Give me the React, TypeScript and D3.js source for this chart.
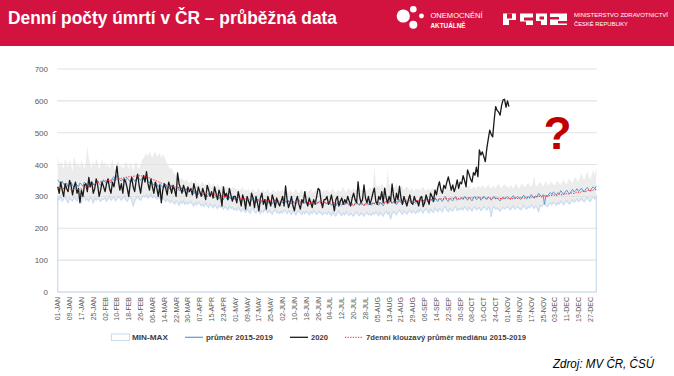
import React from 'react';
import * as d3 from 'd3';

// ---------- DATA ----------
const tickLabels = [
  '01-JAN','09-JAN','17-JAN','25-JAN','02-FEB','10-FEB','18-FEB','26-FEB','06-MAR','14-MAR','22-MAR','30-MAR',
  '07-APR','15-APR','23-APR','01-MAY','09-MAY','17-MAY','25-MAY','02-JUN','10-JUN','18-JUN','26-JUN','04-JUL',
  '12-JUL','20-JUL','28-JUL','05-AUG','13-AUG','21-AUG','29-AUG','06-SEP','14-SEP','22-SEP','30-SEP','08-OCT',
  '16-OCT','24-OCT','01-NOV','09-NOV','17-NOV','25-NOV','03-DEC','11-DEC','19-DEC','27-DEC'
];
const yTicks = [0, 100, 200, 300, 400, 500, 600, 700];

// 2020 daily deaths (Jan 1 - Nov 2)
const deaths2020 = [
  330,310,345,320,300,340,325,315,350,335,305,330,345,310,325,280,320,300,335,340,315,360,330,345,310,325,355,335,300,320,345,
  330,315,340,355,325,310,345,330,360,395,350,320,340,310,355,345,325,300,340,360,330,315,350,370,335,310,345,365,
  345,378,340,320,355,330,310,345,325,300,335,280,320,340,325,305,345,330,310,335,320,300,374,340,325,310,335,320,300,330,315,
  325,305,340,320,295,330,315,300,325,310,290,335,320,300,315,295,330,310,290,320,305,270,330,300,310,290,325,305,285,300,
  300,280,315,295,270,305,290,260,300,285,270,310,295,265,300,280,255,295,310,275,290,260,300,285,270,305,290,265,295,280,270,
  285,300,270,333,290,265,280,300,270,255,285,300,275,260,290,280,315,285,270,295,280,265,290,275,300,325,320,285,265,290,
  290,300,275,285,305,280,255,290,300,270,285,295,275,290,280,300,285,270,295,310,290,280,346,300,280,290,336,295,280,300,275,
  290,310,326,285,275,300,290,315,280,326,295,280,300,285,339,300,280,310,290,332,295,275,300,285,270,290,305,280,275,300,285,
  285,270,295,300,268,280,305,290,275,310,300,285,320,305,330,346,320,310,335,325,345,361,340,320,336,315,330,352,325,345,
  340,365,350,330,383,370,355,345,375,367,392,362,446,430,440,425,409,450,480,508,495,487,540,582,570,565,555,585,603,605,580,
  600,582
];

// average 2015-2019
const avg1519 = [
  352,345,340,348,338,335,342,330,338,345,335,328,340,336,330,342,338,332,345,340,335,328,342,348,338,335,345,350,340,335,348,
  352,345,340,355,348,342,358,362,350,367,360,352,348,355,345,350,358,352,345,360,355,348,352,362,355,350,358,360,
  352,360,348,342,350,340,335,345,338,330,340,335,328,332,338,325,330,322,335,328,320,325,330,318,322,328,315,320,325,312,318,
  320,312,308,318,310,305,315,308,302,312,305,298,308,302,310,300,295,305,298,292,302,296,290,300,295,288,298,292,300,290,
  295,288,298,290,284,295,288,282,292,286,280,290,296,285,280,292,286,278,288,282,292,285,278,288,282,276,286,290,280,284,278,
  286,280,290,284,278,288,282,276,286,280,275,285,290,280,276,284,278,286,280,274,284,278,288,282,276,280,286,278,274,282,
  280,276,284,278,272,282,276,270,280,286,276,272,280,274,284,278,272,280,274,270,278,284,276,272,280,276,270,278,282,274,278,
  272,280,276,284,278,272,282,276,270,280,286,276,282,288,278,284,280,274,284,290,280,276,286,282,276,284,290,280,286,282,278,
  288,282,292,286,280,290,294,284,280,292,286,282,296,288,284,294,290,284,296,300,288,284,294,290,286,296,300,288,294,290,
  296,290,300,294,288,298,292,286,296,300,290,294,298,288,292,300,296,290,298,294,288,296,300,292,296,290,286,294,298,292,296,
  300,294,290,298,302,292,296,300,294,290,298,304,296,292,300,296,306,300,294,302,298,310,304,300,306,275,304,300,308,312,
  306,314,310,304,312,308,318,312,306,314,320,312,308,316,322,314,318,324,316,320,326,318,315,324,328,320,316,326,330,324,332
];

// 7-day moving average of the 2015-2019 median
const medianMA = [
  330,328,327,326,325,324,323,323,322,322,322,321,321,322,322,323,324,325,326,328,330,332,334,336,338,340,342,344,345,346,347,
  348,349,349,350,350,351,352,352,353,354,355,356,357,358,359,360,361,362,362,363,363,364,364,365,365,365,364,364,
  363,362,360,358,356,354,352,350,348,346,344,342,340,338,336,335,334,333,332,331,330,329,328,327,326,325,324,323,322,321,320,
  319,318,317,316,315,314,313,312,311,311,310,309,308,307,307,306,305,304,303,303,302,301,300,300,299,298,298,297,296,296,
  295,295,294,294,293,293,292,292,291,291,291,290,290,290,289,289,289,288,288,288,287,287,287,287,286,286,286,286,285,285,285,
  285,286,284,283,285,284,282,284,283,281,283,284,282,283,281,282,284,282,280,282,281,283,281,280,282,281,279,280,282,280,
  280,281,279,280,278,279,281,279,277,278,279,277,278,276,277,279,277,275,276,277,275,276,278,276,275,277,276,274,276,277,278,
  277,279,278,276,278,280,279,278,280,282,280,281,283,281,280,282,284,283,282,284,285,283,284,286,285,284,286,287,285,286,288,
  287,286,288,289,287,288,290,289,288,290,291,290,292,291,290,292,293,292,291,293,294,292,293,295,294,293,295,294,293,295,
  296,294,295,297,296,294,295,297,296,295,297,298,296,295,297,296,294,295,297,296,294,295,296,294,293,295,294,292,293,295,294,
  293,295,294,292,294,296,295,293,295,297,296,294,296,298,297,295,297,299,298,297,299,301,300,298,300,302,301,300,302,304,
  303,305,304,303,305,307,306,305,307,309,308,307,309,311,310,309,312,314,313,312,315,317,316,315,318,320,319,318,320,322,321
];

// MIN and MAX 2015-2019
const max1519 = [
  430,395,410,400,385,420,405,390,415,400,380,425,410,395,405,390,415,400,385,410,455,420,400,390,410,395,420,405,385,400,415,
  400,410,390,405,385,400,415,395,380,405,410,390,400,385,395,410,400,385,405,395,380,400,410,395,385,400,415,420,
  430,435,425,440,430,420,435,440,425,430,438,420,432,425,415,400,395,385,390,375,370,365,372,360,355,358,350,348,355,345,342,
  350,345,340,352,338,345,335,342,348,336,340,332,345,338,330,342,335,328,340,332,326,338,330,335,325,332,328,322,330,325,
  328,320,326,318,324,330,316,322,318,326,314,320,324,316,312,320,326,315,318,322,312,318,324,314,310,318,322,312,316,320,314,
  318,322,312,326,316,312,320,315,310,318,324,314,310,318,322,312,316,320,314,318,326,316,312,320,318,314,322,316,312,320,
  316,322,318,312,320,326,316,312,320,318,314,322,330,318,314,322,326,316,320,328,318,322,335,326,318,324,330,320,316,324,328,
  322,330,395,340,328,335,326,345,330,322,328,380,340,326,332,324,330,338,326,322,334,328,320,326,332,324,318,328,322,316,326,
  320,326,318,324,330,320,316,326,322,318,328,324,318,330,326,320,328,322,318,326,332,324,320,330,326,322,328,334,326,330,
  325,332,328,322,330,336,326,322,332,328,324,334,330,326,336,330,324,332,338,328,324,334,330,326,336,340,330,326,334,338,330,
  332,326,336,330,324,334,340,330,326,336,340,332,328,338,344,334,330,340,365,336,330,342,346,338,332,340,348,338,334,342,
  345,338,334,344,350,340,336,346,352,342,338,350,356,346,342,354,362,350,346,360,372,356,352,366,378,360,354,370,384,366,392
];
const min1519 = [
  295,290,300,285,292,298,288,280,295,290,285,300,292,286,296,290,282,294,300,288,292,285,298,290,280,294,288,296,290,284,292,
  290,296,285,292,300,288,294,298,286,292,300,295,288,296,302,290,285,294,298,290,268,286,294,300,292,288,296,302,
  298,305,294,300,308,296,302,298,292,300,294,288,296,290,284,292,286,280,288,282,276,286,280,272,284,278,286,275,282,276,280,
  284,276,270,280,274,282,278,270,276,268,280,272,266,276,270,264,274,268,262,272,266,270,260,268,264,258,270,262,266,258,
  262,256,266,258,252,262,256,250,260,254,248,258,262,252,248,258,252,246,256,250,260,254,248,256,250,244,254,258,248,252,246,
  254,248,258,252,246,256,250,244,254,248,242,252,256,248,244,252,246,254,248,242,252,246,256,250,244,248,254,246,242,250,
  248,244,252,246,240,250,244,238,248,254,244,240,248,242,252,246,240,248,242,238,246,252,244,240,248,244,238,246,250,242,246,
  240,248,244,252,246,240,250,244,238,248,254,244,250,228,246,252,248,242,252,258,248,244,254,250,244,252,258,248,254,250,246,
  256,250,260,254,248,258,262,252,248,260,254,250,264,256,252,262,258,252,264,268,256,252,262,258,254,264,268,256,262,258,
  264,258,268,262,256,266,260,254,264,268,258,262,266,256,260,268,264,258,266,262,236,264,268,260,264,258,254,262,266,260,264,
  268,262,258,266,270,260,264,268,262,258,266,272,264,260,268,264,274,268,262,270,266,250,272,268,274,280,272,268,276,280,
  274,282,278,272,280,276,286,280,274,282,288,280,276,284,290,282,286,292,284,288,294,286,283,292,296,288,284,294,298,292,300
];

const legendLabels = ['MIN-MAX', 'průměr 2015-2019', '2020', '7denní klouzavý průměr mediánu 2015-2019'];

// ---------- CHART ----------
const FONT = '"Liberation Sans", Arial, sans-serif';
const NDAYS = 365;

export default function App() {
  const x = d3.scaleLinear().domain([0, NDAYS]).range([57, 597]);
  const xc = (i: number) => x(i + 0.5);
  const y = d3.scaleLinear().domain([0, 700]).range([292, 69]);
  const days = d3.range(NDAYS);

  const bandArea = d3.area<number>().x(i => xc(i)).y0(i => y(min1519[i])).y1(i => y(max1519[i]));
  const minArea = d3.area<number>().x(i => xc(i)).y0(() => y(0)).y1(i => y(min1519[i]));
  const lineOf = (arr: number[]) => d3.line<number>().x((_, i) => xc(i)).y(v => y(v))(arr) || '';

  const tickDays = tickLabels.map((_, k) => k * 8);

  return (
    <div style={{ position: 'fixed', left: 0, top: 0 }}>
      <svg width={674} height={376} style={{ display: 'block', background: '#fff' }} fontFamily={FONT}>
        {/* header */}
        <rect x={0} y={0} width={674} height={46} fill="#d3133f" />
        <text x={8} y={24} fill="#fff" fontSize={17.5} fontWeight="bold" textLength={329} lengthAdjust="spacingAndGlyphs">
          Denní počty úmrtí v ČR – průběžná data
        </text>
        {/* onemocneni logo */}
        <circle cx={403.3} cy={16} r={6.6} fill="#fff" />
        <circle cx={413.3} cy={9.3} r={3.3} fill="#fff" />
        <circle cx={421.5} cy={16} r={2.4} fill="#fff" />
        <circle cx={413.3} cy={24.8} r={4} fill="#fff" />
        <text x={430.5} y={17.5} fill="#fff" fontSize={7} textLength={52} lengthAdjust="spacingAndGlyphs">ONEMOCNĚNÍ</text>
        <text x={430.5} y={27.5} fill="#fff" fontSize={7} fontWeight="bold" textLength={35} lengthAdjust="spacingAndGlyphs">AKTUÁLNĚ</text>
        {/* ministry logo */}
        <g fill="#fff">
          <rect x={503} y={13.5} width={13} height={11.5} />
          <rect x={520} y={13.5} width={13} height={11.5} />
          <rect x={536} y={13.5} width={11} height={11.5} />
          <rect x={550} y={13.5} width={17} height={11.5} />
        </g>
        <g fill="#d3133f">
          <rect x={507} y={13.5} width={5} height={5} />
          <rect x={509} y={20} width={7} height={5} />
          <rect x={524} y={17.5} width={9} height={3} />
          <rect x={520} y={21.5} width={6} height={3.5} />
          <rect x={539.5} y={16.5} width={4.5} height={3} />
          <rect x={536} y={21} width={5} height={4} />
          <rect x={550} y={17} width={9} height={2.5} />
          <rect x={558} y={21} width={9} height={2.5} />
        </g>
        <text x={574} y={17} fill="#fff" fontSize={5.8} textLength={94} lengthAdjust="spacingAndGlyphs">MINISTERSTVO ZDRAVOTNICTVÍ</text>
        <text x={574} y={26} fill="#fff" fontSize={5.8} textLength={54} lengthAdjust="spacingAndGlyphs">ČESKÉ REPUBLIKY</text>

        {/* min-max band */}
        <path d={bandArea(days) || ''} fill="#ececec" />
        {/* gridlines */}
        {yTicks.map(t => (
          <line key={t} x1={57} x2={597} y1={y(t)} y2={y(t)} stroke="#e2e2e2" strokeWidth={1.1} />
        ))}
        {/* min outline */}
        <path d={minArea(days) || ''} fill="none" stroke="#c9dcf0" strokeWidth={1.2} />
        {/* y labels */}
        {yTicks.map(t => (
          <text key={t} x={48} y={y(t) + 3} textAnchor="end" fontSize={8} fill="#595959">{t}</text>
        ))}
        {/* series */}
        <path d={lineOf(avg1519)} fill="none" stroke="#5b9bd5" strokeWidth={1} />
        <path d={lineOf(deaths2020)} fill="none" stroke="#1a1a1a" strokeWidth={1.3} strokeLinejoin="round" />
        <path d={lineOf(medianMA)} fill="none" stroke="#ff2020" strokeWidth={1} strokeDasharray="1.3,1.3" />

        {/* x tick labels */}
        {tickLabels.map((lab, k) => (
          <text key={lab} transform={`translate(${xc(tickDays[k]) + 2.5},297) rotate(-90)`} textAnchor="end" fontSize={7} fill="#595959">
            {lab}
          </text>
        ))}

        {/* question mark */}
        <text x={557.5} y={149} textAnchor="middle" fontSize={46} fontWeight="bold" fill="#c00000">?</text>

        {/* legend */}
        <rect x={111.5} y={334} width={18} height={6.5} fill="#fff" stroke="#c9dcf0" strokeWidth={1} />
        <text x={132} y={340} fontSize={7.5} fontWeight="bold" fill="#404040" textLength={36} lengthAdjust="spacingAndGlyphs">{legendLabels[0]}</text>
        <line x1={185} x2={203} y1={337.3} y2={337.3} stroke="#5b9bd5" strokeWidth={1.2} />
        <text x={206} y={340} fontSize={7.5} fontWeight="bold" fill="#404040" textLength={67} lengthAdjust="spacingAndGlyphs">{legendLabels[1]}</text>
        <line x1={290} x2={308} y1={337.3} y2={337.3} stroke="#1a1a1a" strokeWidth={1.3} />
        <text x={311} y={340} fontSize={7.5} fontWeight="bold" fill="#404040" textLength={17} lengthAdjust="spacingAndGlyphs">{legendLabels[2]}</text>
        <line x1={345} x2={363} y1={337.3} y2={337.3} stroke="#ff2020" strokeWidth={1} strokeDasharray="1.3,1.3" />
        <text x={366} y={340} fontSize={7.5} fontWeight="bold" fill="#404040" textLength={160} lengthAdjust="spacingAndGlyphs">{legendLabels[3]}</text>

        {/* source */}
        <text x={553} y={368} fontSize={12.5} fontStyle="italic" fill="#000" textLength={101} lengthAdjust="spacingAndGlyphs">Zdroj: MV ČR, ČSÚ</text>
      </svg>
    </div>
  );
}
